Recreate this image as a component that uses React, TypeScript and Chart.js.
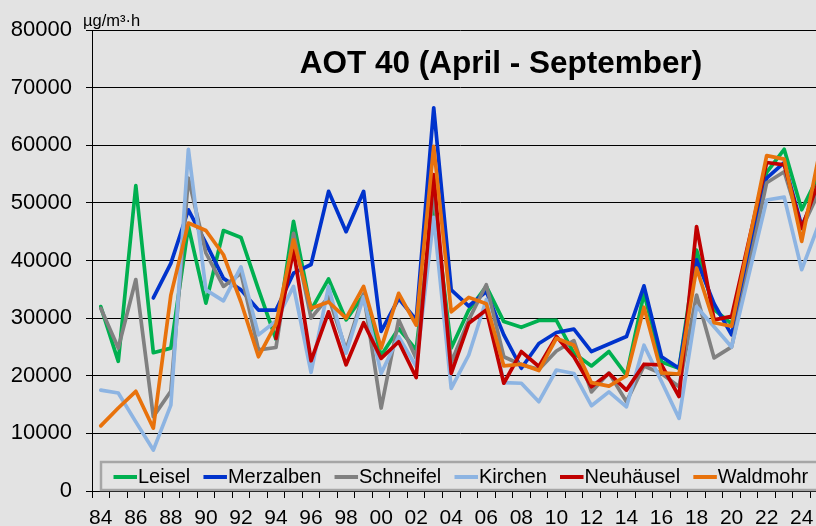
import React, { useEffect, useRef } from "react";
import { Chart, registerables } from "chart.js";

Chart.register(...registerables);

const categories = [
  "1984", "1985", "1986", "1987", "1988", "1989", "1990", "1991", "1992", "1993",
  "1994", "1995", "1996", "1997", "1998", "1999", "2000", "2001", "2002", "2003",
  "2004", "2005", "2006", "2007", "2008", "2009", "2010", "2011", "2012", "2013",
  "2014", "2015", "2016", "2017", "2018", "2019", "2020", "2021", "2022", "2023",
  "2024", "2025",
];

const leisel = [
  32000, 22500, 53000, 24000, 24800, 45900, 32600, 45200, 44000, 35000,
  26300, 46800, 31400, 36800, 29700, 34000, 23500, 28200, 24500, 50500,
  24800, 31400, 35500, 29400, 28400, 29600, 29600, 23900, 21700, 24200,
  20100, 34300, 22400, 21300, 41800, 31500, 29000, null, 55300, 59300,
  48800, 55000,
];

const merzalben = [
  null, null, null, 33500, 39500, 48800, 43000, 36900, 34900, 31400,
  31400, 37800, 39300, 52000, 45000, 52000, 27700, 33400, 29700, 66500,
  34900, 32100, 34600, 27100, 21300, 25600, 27500, 28100, 24200, 25500,
  26800, 35600, 23300, 21300, 40100, 32500, 27100, null, 54300, 57000,
  46000, 52500,
];

const schneifel = [
  31700, 24800, 36700, 12900, 17300, 54300, 41300, 35500, 37800, 24500,
  24900, 44700, 30000, 33700, 24500, 34200, 14400, 29700, 23000, 52000,
  22300, 29700, 35800, 23300, 21900, 21100, 24300, 26100, 17200, 20500,
  15500, 21700, 20400, 18100, 34000, 23100, 25000, null, 53500, 55400,
  45500, 52000,
];

const kirchen = [
  17500, 17000, 12000, 7100, 14900, 59300, 34900, 33000, 38900, 27100,
  29500, 35500, 20600, 35500, 23900, 33700, 20400, 26800, 21600, 47500,
  17800, 23600, 33200, 18800, 18700, 15500, 21000, 20400, 14800, 17200,
  14600, 25300, 19000, 12600, 32000, 28500, 25000, null, 50500, 51000,
  38400, 46500,
];

const neuhaeusel = [
  null, null, null, null, null, null, null, null, null, null,
  26500, 41800, 22600, 31100, 21900, 29200, 23000, 25900, 19700, 54900,
  20400, 29100, 31400, 18700, 24200, 21600, 26800, 23300, 18100, 20400,
  17500, 22000, 21900, 16400, 45900, 29700, 30300, null, 57000, 56600,
  45600, 54000,
];

const waldmohr = [
  11300, 14400, 17300, 10900, 34000, 46500, 45200, 41000, 32800, 23300,
  29000, 43600, 31700, 32800, 30000, 35500, 24800, 34300, 28800, 59800,
  31100, 33600, 32500, 21700, 22000, 20900, 26500, 25300, 18800, 18200,
  20000, 31900, 20500, 20300, 38700, 29200, 28600, null, 58200, 57600,
  43300, 58500,
];

const seriesNames = ["Leisel", "Merzalben", "Schneifel", "Kirchen", "Neuhäusel", "Waldmohr"];
const seriesColors = ["#00b050", "#0033cc", "#808080", "#8db4e2", "#c00000", "#e8720c"];
const seriesValues = [leisel, merzalben, schneifel, kirchen, neuhaeusel, waldmohr];

const chartTitle = "AOT 40 (April - September)";
const unitLabel = "µg/m³·h";
const yMin = 0;
const yMax = 80000;
const yStep = 10000;

const BG = "#e3e3e3";
const FONT = "'Liberation Sans', Arial, sans-serif";

const decorPlugin = {
  id: "decor",
  beforeDraw(chart: any) {
    const ctx = chart.ctx;
    ctx.save();
    ctx.fillStyle = BG;
    ctx.fillRect(0, 0, chart.width, chart.height);
    ctx.restore();
  },
  afterDatasetsDraw(chart: any) {
    const ctx = chart.ctx;
    const area = chart.chartArea;
    ctx.save();
    // title
    ctx.fillStyle = "#000";
    ctx.font = `bold 31.5px ${FONT}`;
    ctx.textAlign = "center";
    ctx.textBaseline = "middle";
    ctx.fillText(chartTitle, 501, 64);
    // unit
    ctx.font = `16.5px ${FONT}`;
    ctx.textAlign = "left";
    ctx.textBaseline = "alphabetic";
    ctx.fillText(unitLabel, 83, 26);

    // legend box
    const boxTop = 462;
    const boxBottom = area.bottom - 1;
    const boxLeft = 101;
    ctx.fillStyle = BG;
    ctx.fillRect(boxLeft, boxTop, chart.width - boxLeft + 10, boxBottom - boxTop);
    ctx.strokeStyle = "#a6a6a6";
    ctx.lineWidth = 2.5;
    ctx.strokeRect(boxLeft, boxTop, chart.width - boxLeft + 10, boxBottom - boxTop);

    ctx.font = `20px ${FONT}`;
    ctx.textBaseline = "middle";
    const cy = (boxTop + boxBottom) / 2 + 1;
    let x = 113.5;
    chart.data.datasets.forEach((ds: any) => {
      ctx.strokeStyle = ds.borderColor;
      ctx.lineWidth = 4;
      ctx.lineCap = "butt";
      ctx.beginPath();
      ctx.moveTo(x, cy);
      ctx.lineTo(x + 23.5, cy);
      ctx.stroke();
      ctx.fillStyle = "#000";
      ctx.fillText(ds.label, x + 24.5, cy);
      x += 24.5 + ctx.measureText(ds.label).width + 13.2;
    });
    ctx.restore();
  },
};

export default function App() {
  const ref = useRef<HTMLCanvasElement | null>(null);

  useEffect(() => {
    if (!ref.current) return;
    const n = seriesNames.length;
    const chart = new Chart(ref.current, {
      type: "line",
      data: {
        labels: categories,
        datasets: seriesNames.map((name, i) => ({
          label: name,
          data: seriesValues[i],
          borderColor: seriesColors[i],
          backgroundColor: seriesColors[i],
          borderWidth: 3.7,
          pointRadius: 0,
          pointHoverRadius: 0,
          tension: 0,
          spanGaps: true,
          borderJoinStyle: "round" as const,
          borderCapStyle: "round" as const,
          order: n - i,
        })),
      },
      options: {
        responsive: false,
        animation: false,
        events: [],
        layout: { padding: { left: 0, top: 30, right: 12, bottom: 0 } },
        plugins: {
          legend: { display: false },
          title: { display: false },
          tooltip: { enabled: false },
        },
        scales: {
          x: {
            type: "category",
            offset: true,
            afterFit: (scale: any) => {
              scale.height = 35;
            },
            grid: {
              offset: true,
              drawOnChartArea: false,
              drawTicks: true,
              tickLength: 7,
              color: "#000",
              lineWidth: 1,
            },
            border: { display: true, color: "#000", width: 1 },
            ticks: {
              autoSkip: false,
              maxRotation: 0,
              minRotation: 0,
              padding: 8,
              color: "#000",
              font: { family: FONT, size: 21 },
              callback: (_v: any, idx: number) =>
                idx % 2 === 0 ? categories[idx].slice(2) : "",
            },
          },
          y: {
            min: yMin,
            max: yMax,
            afterFit: (scale: any) => {
              scale.width = 92;
            },
            grid: {
              color: "#000",
              lineWidth: 1,
              drawTicks: true,
              tickLength: 6,
            },
            border: { display: true, color: "#000", width: 1 },
            ticks: {
              stepSize: yStep,
              padding: 14,
              color: "#000",
              font: { family: FONT, size: 22 },
              callback: (v: any) => String(v),
            },
          },
        },
      },
      plugins: [decorPlugin],
    });
    return () => chart.destroy();
  }, []);

  return (
    <div
      style={{
        position: "fixed",
        left: 0,
        top: 0,
        width: 816,
        height: 526,
        overflow: "hidden",
        background: BG,
      }}
    >
      <canvas ref={ref} width={840} height={526} style={{ display: "block", width: 840, height: 526 }} />
    </div>
  );
}
